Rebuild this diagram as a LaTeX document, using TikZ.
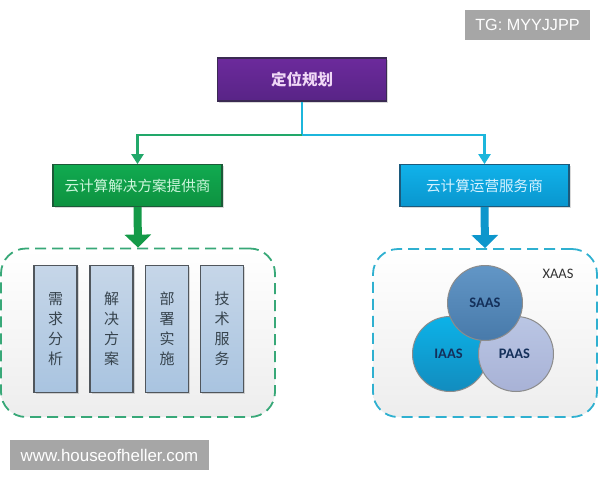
\documentclass[tikz,border=0pt]{standalone}
\usepackage{fontspec}
\setmainfont{Liberation Sans}
\newfontfamily\cjk{Noto Sans CJK SC}
\newfontfamily\carl{Carlito}
\usetikzlibrary{arrows.meta,shadows}
\definecolor{gline}{HTML}{22A86A}
\definecolor{cline}{HTML}{1CB6DC}
\definecolor{gdash}{HTML}{38A878}
\definecolor{cdash}{HTML}{2FB0D0}
\definecolor{gfat}{HTML}{149A48}
\definecolor{cfat}{HTML}{0D96CC}
\definecolor{colT}{HTML}{C6D6E8}
\definecolor{colB}{HTML}{A9C4E0}
\definecolor{colEdge}{HTML}{50565C}
\definecolor{colText}{HTML}{37444E}
\definecolor{navyT}{HTML}{14305A}
\definecolor{purT}{HTML}{6C2A9C}
\definecolor{purB}{HTML}{582486}
\definecolor{purE}{HTML}{3A2A52}
\definecolor{purText}{HTML}{F0D8F6}
\definecolor{greT}{HTML}{10AA50}
\definecolor{greB}{HTML}{0E9240}
\definecolor{greE}{HTML}{1C5A38}
\definecolor{greText}{HTML}{CDF6DC}
\definecolor{bluT}{HTML}{10B2EA}
\definecolor{bluB}{HTML}{0A96CE}
\definecolor{bluE}{HTML}{1C5A7C}
\definecolor{bluText}{HTML}{D6F2FF}
\tikzset{
  softshadow/.style={drop shadow={shadow xshift=1.5pt,shadow yshift=-1.5pt,opacity=.15,fill=black}},
  headbox/.style={draw=#1,line width=1.2pt,inner sep=0pt,softshadow},
  groupbox/.style={draw=#1,line width=1.8pt,dash pattern=on 11pt off 6pt,rounded corners=25pt,
    top color=white,bottom color=black!7,inner sep=0pt},
  colbox/.style={draw=colEdge,line width=1.4pt,top color=colT,bottom color=colB,
    minimum width=43pt,minimum height=127pt,inner sep=0pt,align=center,text=colText,softshadow,
    font=\cjk\fontsize{15}{20}\selectfont},
  ball/.style={circle,draw=black!45,line width=1pt,minimum size=75pt,inner sep=0pt,text=navyT,
    font=\carl\bfseries\fontsize{14.5}{16}\selectfont},
  thinarrow/.style={line width=2.2pt,-{Triangle[width=12pt,length=10pt]}},
  fatarrow/.style={line width=8pt,-{Triangle[width=26pt,length=13pt]}},
  tag/.style={fill=black!35,text=white,inner sep=0pt}
}
\begin{document}
\begin{tikzpicture}[x=1pt,y=-1pt]
\useasboundingbox (0,0) rectangle (600,480);
% top boxes
\node[headbox=purE,minimum width=169pt,minimum height=43pt,top color=purT,bottom color=purB,
  text=purText,font=\cjk\bfseries\fontsize{15.5}{18}\selectfont] (plan) at (302,79.5) {定位规划};
\node[headbox=greE,minimum width=169pt,minimum height=41.5pt,top color=greT,bottom color=greB,
  text=greText,font=\cjk\fontsize{14.6}{18}\selectfont] (sol) at (137.5,185.5) {云计算解决方案提供商};
\node[headbox=bluE,minimum width=169pt,minimum height=41.5pt,top color=bluT,bottom color=bluB,
  text=bluText,font=\cjk\fontsize{14.6}{18}\selectfont] (ops) at (484.5,185.5) {云计算运营服务商};
% group frames
\node[groupbox=gdash,minimum width=274pt,minimum height=168.5pt] (left) at (138,332.75) {};
\node[groupbox=cdash,minimum width=224pt,minimum height=168pt] (right) at (485,333) {};
% connectors
\coordinate (fork) at (302,135);
\draw[cline,line width=2.2pt] (plan.south) -- (fork);
\draw[thinarrow,gline] (fork) -| (sol.north);
\draw[thinarrow,cline] (fork) -| (ops.north);
\draw[fatarrow,gfat] (sol.south) -- (left.north);
\draw[fatarrow,cfat] (ops.south) -- (right.north);
% columns
\node[colbox] (c1) at (55.5,329) {需\\求\\分\\析};
\node[colbox] (c2) at (111.5,329) {解\\决\\方\\案};
\node[colbox] (c3) at (167,329) {部\\署\\实\\施};
\node[colbox] (c4) at (222,329) {技\\术\\服\\务};
% circles
\node[ball,top color={rgb,255:red,12;green,178;blue,232},bottom color={rgb,255:red,18;green,140;blue,190}] (iaas) at (450,354) {\hspace*{-3pt}IAAS};
\node[ball,top color={rgb,255:red,186;green,198;blue,228},bottom color={rgb,255:red,168;green,178;blue,214}] (paas) at (516,354) {\hspace*{-3pt}PAAS};
\node[ball,top color={rgb,255:red,98;green,150;blue,198},bottom color={rgb,255:red,72;green,122;blue,170}] (saas) at (485,303) {SAAS};
\node[font=\carl\fontsize{14.5}{16}\selectfont,text=black!80,inner sep=0pt] (xaas) at (558,274) {XAAS};
% watermarks
\node[tag,minimum width=125pt,minimum height=30pt,font=\fontsize{16.2}{18}\selectfont] (tg) at (527.5,25) {TG: MYYJJPP};
\node[tag,minimum width=199pt,minimum height=30pt,font=\fontsize{16.9}{18}\selectfont] (www) at (109.5,455) {www.houseofheller.com};
\end{tikzpicture}
\end{document}
